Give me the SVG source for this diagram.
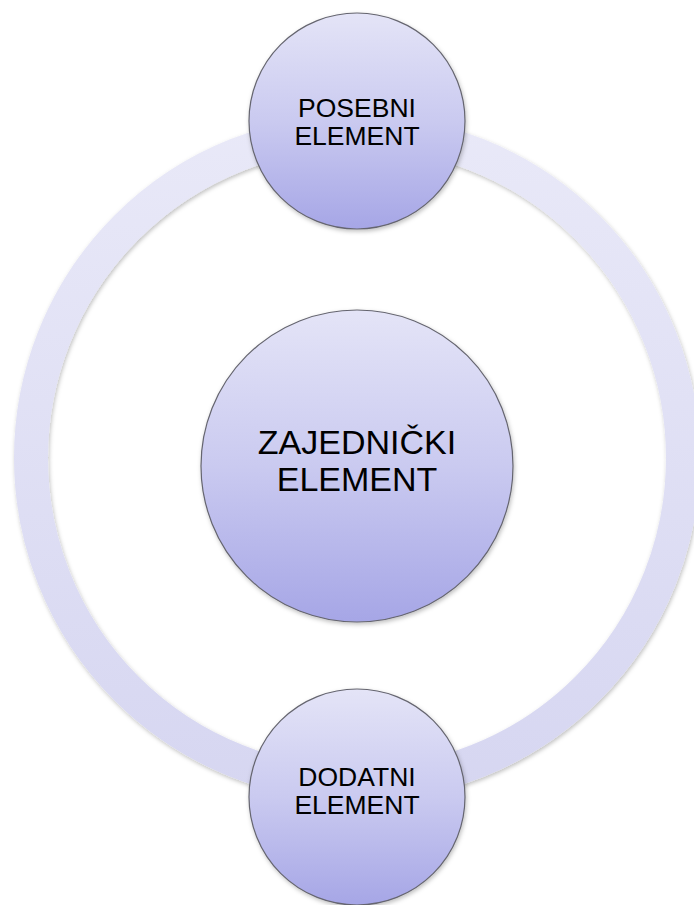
<svg xmlns="http://www.w3.org/2000/svg" width="694" height="905" viewBox="0 0 694 905">
  <defs>
    <linearGradient id="nodeFill" x1="0" y1="0" x2="0" y2="1">
      <stop offset="0" stop-color="#e4e4f7"/>
      <stop offset="0.5" stop-color="#cacaf0"/>
      <stop offset="1" stop-color="#a6a6e6"/>
    </linearGradient>
    <linearGradient id="ringFill" gradientUnits="userSpaceOnUse" x1="0" y1="115" x2="0" y2="800">
      <stop offset="0" stop-color="#e9e9f8"/>
      <stop offset="1" stop-color="#d6d6f1"/>
    </linearGradient>
    <filter id="shadow" x="-10%" y="-10%" width="120%" height="120%">
      <feDropShadow dx="1" dy="2" stdDeviation="2" flood-color="#000" flood-opacity="0.25"/>
    </filter>
    <style>
      .node { fill: url(#nodeFill); stroke: #65656f; stroke-width: 1.2; filter: url(#shadow); }
      .label { font-family: "Liberation Sans", Arial, sans-serif; fill: #000; text-anchor: middle; }
      .small { font-size: 26.5px; }
      .big { font-size: 34px; }
    </style>
  </defs>
  <g id="connectors">
    <circle cx="357" cy="458" r="326" fill="none" stroke="url(#ringFill)" stroke-width="34" filter="url(#shadow)"/>
  </g>
  <g id="node-center">
    <circle class="node" cx="357" cy="466" r="156"/>
    <text class="label big" x="357" y="454">ZAJEDNIČKI</text>
    <text class="label big" x="357" y="491">ELEMENT</text>
  </g>
  <g id="node-top">
    <circle class="node" cx="357" cy="121" r="108"/>
    <text class="label small" x="357" y="117">POSEBNI</text>
    <text class="label small" x="357" y="145">ELEMENT</text>
  </g>
  <g id="node-bottom">
    <circle class="node" cx="357" cy="797" r="108"/>
    <text class="label small" x="357" y="786">DODATNI</text>
    <text class="label small" x="357" y="814">ELEMENT</text>
  </g>
</svg>
